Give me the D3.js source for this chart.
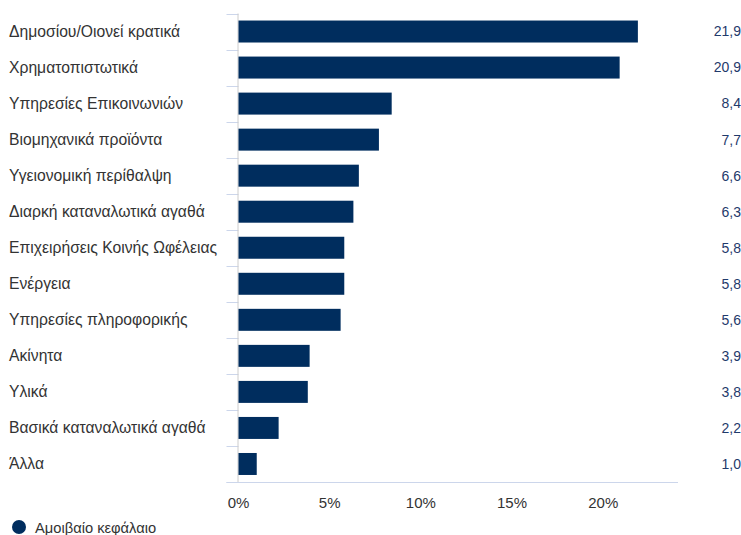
<!DOCTYPE html>
<html lang="el">
<head>
  <meta charset="UTF-8">
  <title>Αμοιβαίο κεφάλαιο</title>
  <script src="https://d3js.org/d3.v7.min.js"></script>
  <style>
    body { margin: 0; background: #fff; font-family: 'Liberation Sans', Arial, sans-serif; }
    svg { display: block; }
  </style>
</head>
<body>
  <svg id="chart" width="741" height="535"></svg>
  <script>
    const categories = [
      'Δημοσίου/Οιονεί κρατικά', 'Χρηματοπιστωτικά', 'Υπηρεσίες Επικοινωνιών',
      'Βιομηχανικά προϊόντα', 'Υγειονομική περίθαλψη', 'Διαρκή καταναλωτικά αγαθά',
      'Επιχειρήσεις Κοινής Ωφέλειας', 'Ενέργεια', 'Υπηρεσίες πληροφορικής',
      'Ακίνητα', 'Υλικά', 'Βασικά καταναλωτικά αγαθά', 'Άλλα'
    ];
    const values = [21.9, 20.9, 8.4, 7.7, 6.6, 6.3, 5.8, 5.8, 5.6, 3.9, 3.8, 2.2, 1.0];
    const tickValues = [0, 5, 10, 15, 20];
    const seriesName = 'Αμοιβαίο κεφάλαιο';

    const svg = d3.select('#chart');
    const plotLeft = 238.5, plotRight = 678, plotTop = 13.5, plotBottom = 482;
    const barColor = '#002d5e', axisColor = '#ccd6eb';

    const x = d3.scaleLinear().domain([0, 24.1]).range([plotLeft, plotRight]);
    const y = d3.scaleBand().domain(categories).range([plotTop, plotBottom]).paddingInner(0.39).paddingOuter(0.195);

    // category tick marks at band boundaries
    const step = y.step();
    svg.append('g').selectAll('line')
      .data(d3.range(categories.length + 1))
      .join('line')
      .attr('x1', plotLeft - 12).attr('x2', plotLeft)
      .attr('y1', i => Math.round(plotTop + i * step) + 0.5).attr('y2', i => Math.round(plotTop + i * step) + 0.5)
      .attr('stroke', axisColor);

    // axis lines
    svg.append('line').attr('x1', plotLeft - 0.5).attr('x2', plotLeft - 0.5)
      .attr('y1', plotTop).attr('y2', plotBottom).attr('stroke', '#cccccc');
    svg.append('line').attr('x1', plotLeft - 12).attr('x2', plotRight)
      .attr('y1', plotBottom + 0.5).attr('y2', plotBottom + 0.5).attr('stroke', axisColor);

    // bars
    svg.append('g').selectAll('rect')
      .data(values)
      .join('rect')
      .attr('x', plotLeft)
      .attr('y', (d, i) => y(categories[i]))
      .attr('width', d => x(d) - plotLeft)
      .attr('height', y.bandwidth())
      .attr('fill', barColor);

    // category labels
    svg.append('g').selectAll('text')
      .data(categories)
      .join('text')
      .attr('x', 9)
      .attr('y', d => y(d) + y.bandwidth() / 2)
      .attr('dy', '0.35em')
      .attr('font-size', 15.7)
      .attr('fill', '#333')
      .text(d => d);

    // value labels
    svg.append('g').selectAll('text')
      .data(values)
      .join('text')
      .attr('x', 741)
      .attr('y', (d, i) => y(categories[i]) + y.bandwidth() / 2)
      .attr('dy', '0.35em')
      .attr('text-anchor', 'end')
      .attr('font-size', 14)
      .attr('fill', '#1f3a6b')
      .text(d => d.toFixed(1).replace('.', ','));

    // x tick labels
    svg.append('g').selectAll('text')
      .data(tickValues)
      .join('text')
      .attr('x', d => x(d))
      .attr('y', 508)
      .attr('text-anchor', 'middle')
      .attr('font-size', 15)
      .attr('fill', '#333')
      .text(d => d + '%');

    // legend
    svg.append('circle').attr('cx', 19).attr('cy', 527).attr('r', 7).attr('fill', barColor);
    svg.append('text').attr('x', 35).attr('y', 533)
      .attr('font-size', 14.7).attr('fill', '#333').text(seriesName);
  </script>
</body>
</html>
